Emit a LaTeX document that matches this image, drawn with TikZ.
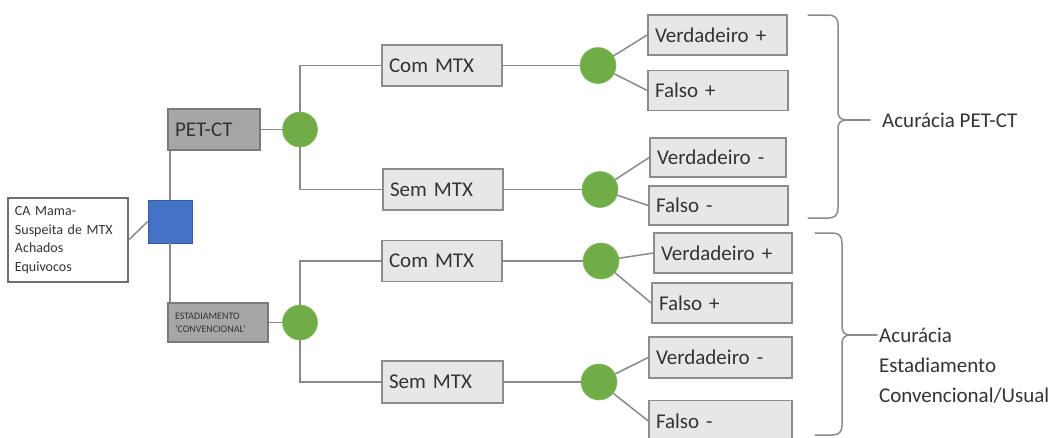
\documentclass[tikz,border=0pt]{standalone}
\usepackage{fontspec}
\setmainfont{Carlito}
\definecolor{linegray}{HTML}{8A8A8A}
\definecolor{boxborder}{HTML}{8C8C8C}
\definecolor{lightfill}{HTML}{E7E7E7}
\definecolor{darkfill}{HTML}{A6A6A6}
\definecolor{darkborder}{HTML}{7A7A7A}
\definecolor{greenc}{HTML}{70AD47}
\definecolor{bluesq}{HTML}{4472C4}
\definecolor{txt}{HTML}{333333}
\begin{document}
\begin{tikzpicture}[x=1pt,y=-1pt,
  conn/.style={draw=linegray, line width=1.5pt},
  lbox/.style n args={2}{draw=boxborder, fill=lightfill, line width=1.6pt,
    font=\fontsize{21}{25}\selectfont, text=txt, align=left,
    inner xsep=7pt, inner ysep=0pt, text width=#1, minimum height=#2},
  dbox/.style n args={2}{draw=darkborder, fill=darkfill, line width=1.6pt,
    text=txt, align=left, inner xsep=7pt, inner ysep=0pt, text width=#1, minimum height=#2},
  chance/.style={circle, fill=greenc, draw=greenc!85!white, line width=0.6pt, minimum size=36pt, inner sep=0pt},
  brace/.style={draw=linegray, line width=1.5pt, line cap=round, line join=round},
  acc/.style={font=\fontsize{21}{30}\selectfont, text=txt, inner sep=0pt, align=left}
]
\useasboundingbox (0,0) rectangle (1061,437);

% root
\node[draw=txt!70, fill=white, line width=1.2pt, minimum width=120pt, minimum height=84pt,
      text width=106pt, inner xsep=7pt, align=left, text=txt,
      font=\fontsize{14}{18.5}\selectfont] (ca) at (68,240)
      {CA Mama-\\Suspeita de MTX\\Achados\\Equivocos};
\node[fill=bluesq, draw=bluesq!80!black, line width=0.6pt, minimum width=44pt, minimum height=43pt, inner sep=0pt] (sq) at (170,221.5) {};

% level 1
\node[dbox={78pt}{41pt}, font=\fontsize{21}{25}\selectfont] (pet) at (214,129.5) {PET-CT};
\node[dbox={86pt}{39pt}, font=\fontsize{10}{13}\selectfont] (est) at (218,322.5) {ESTADIAMENTO\\`CONVENCIONAL'};

\node[chance, minimum size=35pt] (c0) at (300,129.5) {};
\node[chance, minimum size=35pt] (c3) at (300,322.5) {};

% level 2
\node[lbox={106pt}{41pt}] (com1) at (442,65.5) {Com MTX};
\node[lbox={106pt}{41pt}] (sem1) at (443,189.5) {Sem MTX};
\node[lbox={106pt}{41pt}] (com2) at (442,261) {Com MTX};
\node[lbox={107pt}{42pt}] (sem2) at (442.5,382) {Sem MTX};

\node[chance] (c1) at (598,65.5) {};
\node[chance] (c2) at (600,189.5) {};
\node[chance] (c4) at (601,261) {};
\node[chance] (c5) at (599,382) {};

% leaves
\node[lbox={125pt}{40pt}] (b1) at (717.5,35) {Verdadeiro +};
\node[lbox={126pt}{40pt}] (b2) at (718,90.5) {Falso +};
\node[lbox={122pt}{39pt}] (b3) at (718,157.5) {Verdadeiro -};
\node[lbox={125pt}{39pt}] (b4) at (718.5,205.5) {Falso -};
\node[lbox={124pt}{40pt}] (b5) at (723,253) {Verdadeiro +};
\node[lbox={126pt}{40pt}] (b6) at (722,303) {Falso +};
\node[lbox={129pt}{41pt}] (b7) at (720.5,357.5) {Verdadeiro -};
\node[lbox={129pt}{41pt}] (b8) at (720.5,421) {Falso -};

% connectors
\draw[conn] (ca.east) -- (sq.west);
\draw[conn] (sq.north) -- (sq.north |- pet.south);
\draw[conn] (sq.south) -- (sq.south |- est.north);
\draw[conn] (pet.east) -- (c0.west);
\draw[conn] (est.east) -- (c3.west);
\draw[conn] (c0.north) |- (com1.west);
\draw[conn] (c0.south) |- (sem1.west);
\draw[conn] (c3.north) |- (com2.west);
\draw[conn] (c3.south) |- (sem2.west);
\draw[conn] (com1.east) -- (c1.west);
\draw[conn] (sem1.east) -- (c2.west);
\draw[conn] (com2.east) -- (c4.west);
\draw[conn] (sem2.east) -- (c5.west);
\draw[conn] (c1) -- (b1.west);
\draw[conn] (c1) -- (b2.west);
\draw[conn] (c2) -- (b3.west);
\draw[conn] (c2) -- (b4.west);
\draw[conn] (c4) -- (b5.west);
\draw[conn] (c4) -- (b6.west);
\draw[conn] (c5) -- (b7.west);
\draw[conn] (c5) -- (b8.west);

% braces
\coordinate (tipA) at (846,120);
\coordinate (endA) at (870,120);
\draw[brace] (808,15) -- (828,15) .. controls (835,15) and (838,18) .. (838,25)
  -- (838,112) .. controls (838,117) and (841,120) .. (tipA)
  .. controls (841,120) and (838,123) .. (838,128)
  -- (838,208) .. controls (838,215) and (835,218) .. (828,218) -- (808,218);
\draw[brace] (tipA) -- (endA);
\node[acc, anchor=west] (accA) at (882,120) {Acurácia PET-CT};

\coordinate (tipB) at (850,335);
\coordinate (endB) at (877,335);
\draw[brace] (815,233) -- (832,233) .. controls (839,233) and (842,236) .. (842,243)
  -- (842,327) .. controls (842,332) and (845,335) .. (tipB)
  .. controls (845,335) and (842,338) .. (842,343)
  -- (842,425) .. controls (842,432) and (839,435) .. (832,435) -- (815,435);
\draw[brace] (tipB) -- (endB);
\node[acc, anchor=north west] (accB) at (879,328) {Acurácia\\Estadiamento\\Convencional/Usual};
\end{tikzpicture}
\end{document}
